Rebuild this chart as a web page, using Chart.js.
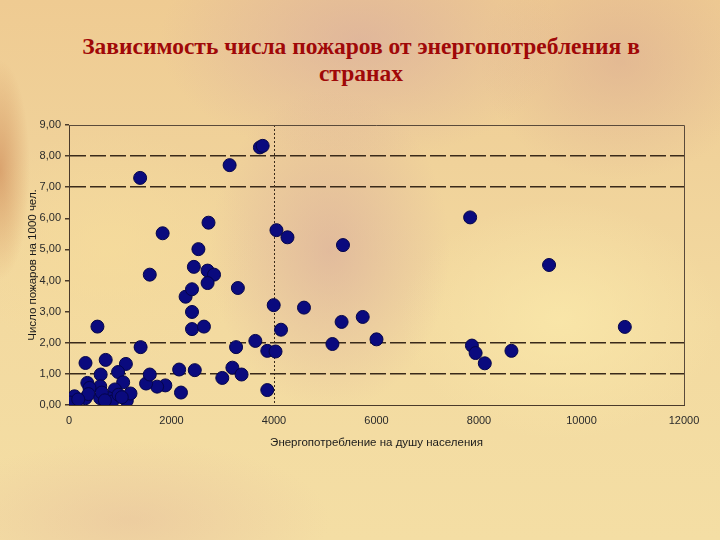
<!DOCTYPE html>
<html>
<head>
<meta charset="utf-8">
<script src="https://cdn.jsdelivr.net/npm/chart.js@4/dist/chart.umd.min.js"></script>
<style>
  html, body { margin: 0; padding: 0; }
  body {
    width: 720px; height: 540px; overflow: hidden; position: relative;
    background:
      radial-gradient(ellipse 120px 160px at 330px 250px, rgba(210,160,155,0.5), rgba(210,160,155,0) 100%),
      radial-gradient(ellipse 200px 120px at 360px 40px, rgba(212,165,160,0.55), rgba(212,165,160,0) 100%),
      radial-gradient(ellipse 140px 120px at 620px 60px, rgba(215,165,145,0.5), rgba(215,165,145,0) 100%),
      radial-gradient(ellipse 30px 110px at 0px 170px, rgba(200,125,75,0.55), rgba(200,125,75,0) 100%),
      radial-gradient(ellipse 160px 120px at 560px 320px, rgba(250,232,170,0.8), rgba(250,232,170,0) 100%),
      radial-gradient(ellipse 200px 80px at 130px 520px, rgba(228,185,155,0.45), rgba(228,185,155,0) 100%),
      radial-gradient(ellipse 150px 120px at 110px 250px, rgba(246,220,155,0.7), rgba(246,220,155,0) 100%),
      linear-gradient(180deg, #efcb92 0%, #f0d29a 30%, #f3daa0 60%, #f4dea4 100%);
  }
  #title {
    position: absolute; left: 0; top: 33px; width: 722px; text-align: center;
    font-family: "Liberation Serif", "Times New Roman", serif; font-weight: bold;
    font-size: 23.5px; line-height: 27px; color: #a00808;
  }
  #wrap { position: absolute; left: 0; top: 0; width: 720px; height: 540px; }
</style>
</head>
<body>
<div id="title">Зависимость числа пожаров от энергопотребления в<br>странах</div>
<div id="wrap"><canvas id="c" width="720" height="540"></canvas></div>
<script>
// Energy consumption per capita (x) and fires per 1000 people (y)
const energy = [
  1388, 3134, 3725, 3779, 1827, 1576, 2722, 2525, 2436, 2704, 2830, 2704, 3295, 2275, 2400, 2400, 2400, 2633, 555, 1397,
  4048, 4263, 3994, 4585, 4137, 3636, 3260, 3869, 4030, 5346, 5319, 5731, 6000, 5140, 7827, 7862, 7934, 8113, 8633, 9367, 10845,
  3869, 3188, 3367, 2991, 2185, 2149, 2454, 1880, 1719, 1504, 1576,
  322, 716, 1110, 618, 958, 358, 609, 1057, 896, 400, 36, 107, 90, 322, 380, 609, 770, 842, 967, 1128, 1200, 20, 180, 1030, 640, 700
];
const fires = [
  7.30, 7.71, 8.28, 8.33, 5.52, 4.19, 5.86, 5.01, 4.44, 4.32, 4.19, 3.92, 3.76, 3.48, 3.72, 2.99, 2.44, 2.52, 2.52, 1.86,
  5.62, 5.39, 3.21, 3.13, 2.42, 2.06, 1.86, 1.74, 1.72, 5.14, 2.67, 2.83, 2.11, 1.96, 6.03, 1.91, 1.67, 1.34, 1.74, 4.50, 2.51,
  0.48, 1.20, 0.98, 0.87, 0.40, 1.14, 1.12, 0.63, 0.59, 0.69, 0.98,
  1.35, 1.45, 1.32, 0.98, 1.06, 0.71, 0.60, 0.73, 0.50, 0.55, 0.11, 0.28, 0.00, 0.22, 0.35, 0.22, 0.22, 0.11, 0.33, 0.14, 0.37, 0.08, 0.18, 0.25, 0.40, 0.15
];
const xTicks = [0, 2000, 4000, 6000, 8000, 10000, 12000];
const yTicks = [0, 1, 2, 3, 4, 5, 6, 7, 8, 9];
const yGridShown = [1, 2, 7, 8];
const xGridShown = [4000];
const xTitle = 'Энергопотребление на душу населения';
const yTitle = 'Число пожаров на 1000 чел.';

const points = energy.map((e, i) => ({ x: e, y: fires[i] }));

const frame = {
  id: 'frame',
  afterDraw(chart) {
    const { ctx, chartArea: a } = chart;
    ctx.save();
    ctx.strokeStyle = '#5a4a3a';
    ctx.lineWidth = 1;
    ctx.beginPath();
    ctx.moveTo(a.left, a.top + 0.5);
    ctx.lineTo(a.right + 0.5, a.top + 0.5);
    ctx.lineTo(a.right + 0.5, a.bottom);
    ctx.stroke();
    ctx.restore();
  }
};

new Chart(document.getElementById('c'), {
  type: 'scatter',
  data: {
    datasets: [{
      data: points,
      pointRadius: 6.5,
      pointHoverRadius: 6.5,
      backgroundColor: '#0a0a7e',
      borderColor: '#05054a',
      borderWidth: 1
    }]
  },
  options: {
    responsive: false,
    animation: false,
    layout: { padding: { top: 125, right: 36, left: 0, bottom: 90 } },
    plugins: { legend: { display: false }, tooltip: { enabled: false }, title: { display: false } },
    scales: {
      x: {
        type: 'linear', min: 0, max: 12000,
        afterBuildTicks: s => { s.ticks = xTicks.map(v => ({ value: v })); },
        afterFit: s => { s.height = 45; },
        ticks: {
          color: '#2a2a2a', font: { family: 'Liberation Sans', size: 11 }, padding: 9, maxRotation: 0,
          callback: v => String(v)
        },
        grid: {
          color: c => xGridShown.includes(c.tick && c.tick.value) ? '#3a2a1a' : 'rgba(0,0,0,0)',
          lineWidth: 1, tickLength: 0, drawTicks: false
        },
        border: { display: true, color: '#4a3a2a', width: 1, dash: [2, 2] },
        title: { display: true, text: xTitle, color: '#1a1a1a', font: { family: 'Liberation Sans', size: 11.5 }, padding: { top: 3, bottom: 0 } }
      },
      y: {
        type: 'linear', min: 0, max: 9,
        afterBuildTicks: s => { s.ticks = yTicks.map(v => ({ value: v })); },
        afterFit: s => { s.width = 69; },
        ticks: {
          color: '#2a2a2a', font: { family: 'Liberation Sans', size: 11 }, padding: 4,
          callback: v => v.toFixed(2).replace('.', ',')
        },
        grid: {
          color: c => yGridShown.includes(c.tick && c.tick.value) ? '#3a2a1a' : 'rgba(0,0,0,0)',
          tickColor: '#4a3a2a', tickLength: 4, lineWidth: 1.5
        },
        border: { display: true, color: '#4a3a2a', width: 1, dash: [16, 4] },
        title: { display: true, text: yTitle, color: '#1a1a1a', font: { family: 'Liberation Sans', size: 11.5 }, padding: { top: 26, bottom: 0 } }
      }
    }
  },
  plugins: [frame]
});
</script>
</body>
</html>
